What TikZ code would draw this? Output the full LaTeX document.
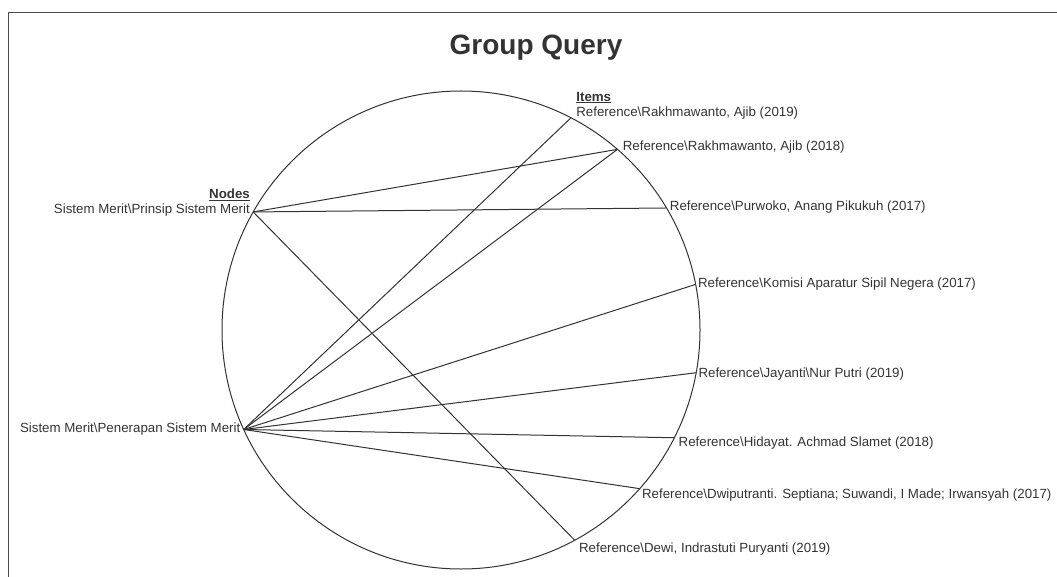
\documentclass[tikz,border=0pt]{standalone}
\usepackage{fontspec}
\setmainfont{Liberation Sans}
\usepackage{tikz}
\usetikzlibrary{positioning}
\definecolor{ink}{HTML}{333333}
\definecolor{frame}{HTML}{4A4A4A}

\begin{document}
\begin{tikzpicture}[
  x=1pt, y=-1pt,
  pnt/.style={inner sep=0pt, minimum size=0pt},
  lbl/.style={inner sep=0pt, text=ink, font=\fontsize{13.3}{15}\selectfont},
  hdr/.style={inner sep=0pt, text=ink, font=\fontsize{13.3}{15}\selectfont\bfseries},
  link/.style={draw=ink, line width=1pt}]
\useasboundingbox (0,0) rectangle (1057,577);
\draw[frame, line width=1.3pt] (8.5,577) -- (8.5,12.5) -- (1057,12.5);
\node[text=ink, font=\fontsize{28}{32}\selectfont\bfseries] (title) at (536,48) {Group Query};

% the circle and its points
\coordinate (c) at (461,330);
\draw[ink, line width=1pt] (c) circle[radius=239];
\node[pnt] (prinsip) at ([shift={(-150.4:239)}]c) {};
\node[pnt] (penerapan) at ([shift={(155.4:239)}]c) {};
\node[pnt] (rak19) at ([shift={(-62.6:239)}]c) {};
\node[pnt] (rak18) at ([shift={(-49.1:239)}]c) {};
\node[pnt] (purwoko) at ([shift={(-30.7:239)}]c) {};
\node[pnt] (komisi) at ([shift={(-11.0:239)}]c) {};
\node[pnt] (jayanti) at ([shift={(10.3:239)}]c) {};
\node[pnt] (hidayat) at ([shift={(26.8:239)}]c) {};
\node[pnt] (dwi) at ([shift={(41.6:239)}]c) {};
\node[pnt] (dewi) at ([shift={(61.6:239)}]c) {};

% labels
\node[lbl, left=3pt of prinsip, yshift=2pt] (tprinsip) {Sistem Merit\textbackslash Prinsip Sistem Merit};
\node[lbl, left=3pt of penerapan] (tpenerapan) {Sistem Merit\textbackslash Penerapan Sistem Merit};
\node[lbl, right=5pt of rak19, yshift=5pt] (trak19) {Reference\textbackslash Rakhmawanto, Ajib (2019)};
\node[lbl, right=5pt of rak18, yshift=2pt] (trak18) {Reference\textbackslash Rakhmawanto, Ajib (2018)};
\node[lbl, right=3pt of purwoko, yshift=1pt] (tpurwoko) {Reference\textbackslash Purwoko, Anang Pikukuh (2017)};
\node[lbl, right=2pt of komisi] (tkomisi) {Reference\textbackslash Komisi Aparatur Sipil Negera (2017)};
\node[lbl, right=2pt of jayanti, yshift=-1pt] (tjayanti) {Reference\textbackslash Jayanti\textbackslash Nur Putri (2019)};
\node[lbl, right=4pt of hidayat, yshift=-5pt] (thidayat) {Reference\textbackslash Hidayat. Achmad Slamet (2018)};
\node[lbl, right=2pt of dwi, yshift=-6pt] (tdwi) {Reference\textbackslash Dwiputranti. Septiana; Suwandi, I Made; Irwansyah (2017)};
\node[lbl, right=4pt of dewi, yshift=-9pt] (tdewi) {Reference\textbackslash Dewi, Indrastuti Puryanti (2019)};
\node[hdr, above=3pt of tprinsip.north east, anchor=south east] (nodeshdr) {\underline{Nodes}};
\node[hdr, above=3pt of trak19.north west, anchor=south west] (itemshdr) {\underline{Items}};

% links
\draw[link] (prinsip) -- (rak18);
\draw[link] (prinsip) -- (purwoko);
\draw[link] (prinsip) -- (dewi);
\draw[link] (penerapan) -- (rak19);
\draw[link] (penerapan) -- (rak18);
\draw[link] (penerapan) -- (komisi);
\draw[link] (penerapan) -- (jayanti);
\draw[link] (penerapan) -- (hidayat);
\draw[link] (penerapan) -- (dwi);
\end{tikzpicture}
\end{document}
